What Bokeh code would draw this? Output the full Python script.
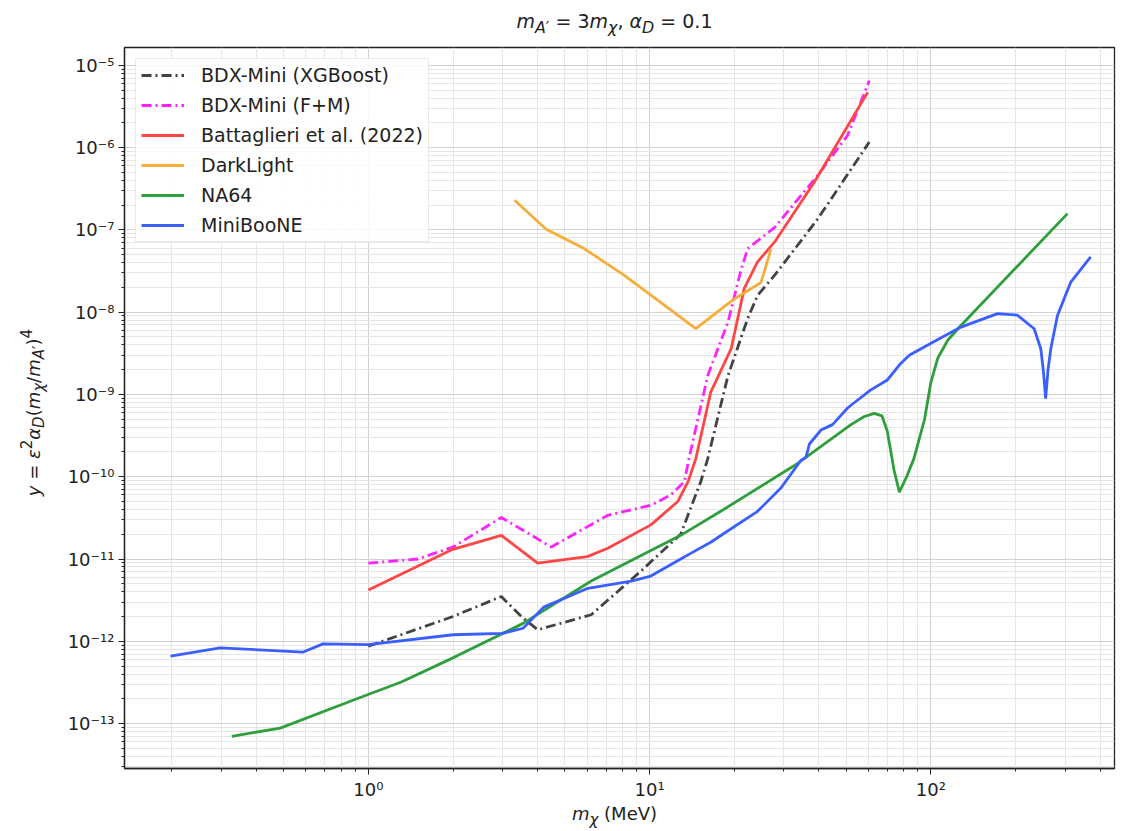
from bokeh.plotting import figure
from bokeh.models import Range1d, FixedTicker, CustomJSTickFormatter, Legend, LegendItem, Div
from bokeh.layouts import column, row
from bokeh.embed import file_html
from bokeh.resources import INLINE

# ---------------- data ----------------
xgb_x = [1.0, 2.0, 2.97, 3.5, 4.0, 6.2, 9.3, 12.9, 15.2, 16.1, 19.0, 22.3, 24.2, 27.8, 39.6, 60.4]
xgb_y = [8.7e-13, 2.0e-12, 3.5e-12, 2.0e-12, 1.38e-12, 2.1e-12, 7.1e-12, 2.0e-11, 8.7e-11,
         1.66e-10, 1.7e-9, 8.3e-9, 1.6e-8, 2.8e-8, 1.36e-7, 1.17e-6]

fm_x = [1.0, 1.5, 2.0, 2.97, 4.47, 7.1, 10.1, 11.9, 13.3, 13.8, 16.1, 19.0, 21.0, 22.3, 27.8,
        39.6, 50.5, 60.4]
fm_y = [8.9e-12, 1.0e-11, 1.4e-11, 3.2e-11, 1.4e-11, 3.4e-11, 4.5e-11, 6.0e-11, 8.7e-11, 1.66e-10,
        1.7e-9, 7.6e-9, 3.0e-8, 5.9e-8, 1.07e-7, 4.6e-7, 1.4e-6, 6.5e-6]

bat_x = [1.0, 1.97, 2.97, 4.0, 6.0, 7.1, 10.1, 12.6, 13.7, 14.6, 16.5, 19.5, 21.7, 24.2, 27.8, 38.5, 59.6]
bat_y = [4.2e-12, 1.29e-11, 1.94e-11, 8.9e-12, 1.07e-11, 1.35e-11, 2.6e-11, 5.0e-11, 8.7e-11,
         1.66e-10, 1.07e-9, 3.6e-9, 1.95e-8, 4.1e-8, 7.1e-8, 3.8e-7, 4.7e-6]

dl_x = [3.31, 4.29, 5.87, 8.13, 14.6, 20.0, 24.9, 27.0]
dl_y = [2.3e-7, 1.02e-7, 5.9e-8, 2.8e-8, 6.3e-9, 1.45e-8, 2.3e-8, 5.8e-8]

na_x = [0.327, 0.486, 0.91, 1.31, 2.06, 3.55, 6.2, 12.9, 17.9, 33.6, 52.0, 58.0, 63.0, 67.0, 70.0,
        74.0, 77.3, 82.0, 87.0, 95.0, 100.0, 106.0, 115.0, 128.0, 306.0]
na_y = [7.0e-14, 8.8e-14, 2.0e-13, 3.2e-13, 6.6e-13, 1.65e-12, 5.4e-12, 1.94e-11, 3.8e-11, 1.45e-10,
        4.3e-10, 5.4e-10, 5.9e-10, 5.5e-10, 3.6e-10, 1.2e-10, 6.5e-11, 1.0e-10, 1.65e-10, 5.0e-10,
        1.4e-9, 2.8e-9, 4.6e-9, 6.9e-9, 1.58e-7]

mb_x = [0.198, 0.297, 0.587, 0.69, 1.0, 2.0, 3.0, 3.55, 4.2, 6.03, 8.6, 10.1, 12.9, 14.0, 16.5,
        18.2, 24.2, 29.3, 34.5, 36.0, 37.0, 40.7, 44.7, 50.5, 52.0, 61.0, 70.0, 78.0, 83.8, 102.8,
        128.0, 172.7, 203.0, 233.0, 246.0, 251.0, 256.0, 261.0, 267.0, 282.0, 314.0, 370.0]
mb_y = [6.6e-13, 8.3e-13, 7.4e-13, 9.3e-13, 9.1e-13, 1.2e-12, 1.25e-12, 1.44e-12, 2.6e-12, 4.4e-12,
        5.4e-12, 6.2e-12, 1.0e-11, 1.17e-11, 1.6e-11, 2.0e-11, 3.8e-11, 7.3e-11, 1.58e-10, 1.73e-10,
        2.5e-10, 3.7e-10, 4.3e-10, 6.8e-10, 7.4e-10, 1.13e-9, 1.5e-9, 2.37e-9, 3.0e-9, 4.4e-9,
        6.6e-9, 9.6e-9, 9.2e-9, 6.3e-9, 3.6e-9, 2.0e-9, 8.9e-10, 2.0e-9, 3.6e-9, 9.1e-9, 2.3e-8, 4.7e-8]

labels = ["BDX-Mini (XGBoost)", "BDX-Mini (F+M)", "Battaglieri et al. (2022)",
          "DarkLight", "NA64", "MiniBooNE"]
x_major = [1, 10, 100]
y_major_exp = list(range(-13, -4))

# ---------------- figure ----------------
FONT = "DejaVu Sans"
p = figure(width=1066, height=762, x_axis_type="log", y_axis_type="log",
           x_range=Range1d(0.1358, 449.8), y_range=Range1d(2.84e-14, 1.652e-5),
           output_backend="svg", toolbar_location=None,
           min_border_left=74, min_border_right=2, min_border_top=7, min_border_bottom=33)

p.outline_line_color = "#222222"
p.outline_line_width = 1.3

x_minor = [m * 10.0 ** k for k in range(-1, 3) for m in range(2, 10)]
y_major = [10.0 ** k for k in y_major_exp]
y_minor = [m * 10.0 ** k for k in range(-14, -4) for m in range(2, 10)]
p.xaxis.ticker = FixedTicker(ticks=x_major, minor_ticks=x_minor)
p.yaxis.ticker = FixedTicker(ticks=y_major, minor_ticks=y_minor)

fmt_code = """
const sup = {"-":"\u207b","0":"\u2070","1":"\u00b9","2":"\u00b2","3":"\u00b3","4":"\u2074",
             "5":"\u2075","6":"\u2076","7":"\u2077","8":"\u2078","9":"\u2079"};
const e = Math.round(Math.log10(tick));
return "10" + String(e).split("").map(c => sup[c]).join("");
"""
for ax in (p.xaxis, p.yaxis):
    ax.formatter = CustomJSTickFormatter(code=fmt_code)
    ax.major_label_text_font = FONT
    ax.major_label_text_font_size = "18px"
    ax.major_label_text_color = "#222222"
    ax.axis_line_color = "#222222"
    ax.axis_line_width = 1.3
    ax.major_tick_line_color = "#222222"
    ax.minor_tick_line_color = "#222222"
    ax.major_tick_in = 0
    ax.major_tick_out = 6
    ax.minor_tick_in = 0
    ax.minor_tick_out = 3
    ax.major_label_standoff = 4

for g in (p.xgrid, p.ygrid):
    g.grid_line_color = "#d2d2d2"
    g.grid_line_width = 1
    g.minor_grid_line_color = "#e6e6e6"
    g.minor_grid_line_width = 1

LW = 2.8
r1 = p.line(xgb_x, xgb_y, line_color="#222222", line_alpha=0.85, line_width=LW, line_dash="10 4 2 4")
r2 = p.line(fm_x, fm_y, line_color="#ff22ff", line_width=LW, line_dash="10 4 2 4")
r3 = p.line(bat_x, bat_y, line_color="#ff4646", line_width=LW)
r4 = p.line(dl_x, dl_y, line_color="#f7ad3a", line_width=LW)
r5 = p.line(na_x, na_y, line_color="#2f9e3c", line_width=LW)
r6 = p.line(mb_x, mb_y, line_color="#3b5fff", line_width=LW)

legend = Legend(items=[LegendItem(label=l, renderers=[r]) for l, r in zip(labels, [r1, r2, r3, r4, r5, r6])],
                location="top_left", label_text_font=FONT, label_text_font_size="19px",
                label_text_color="#222222", glyph_width=43, glyph_height=20, label_height=20,
                label_standoff=17, spacing=8, padding=5, margin=11,
                border_line_color="#d6d6d6", border_line_width=1,
                background_fill_color="white", background_fill_alpha=0.85)
p.add_layout(legend)

# ---------------- text with sub/superscripts ----------------
title_div = Div(width=1106, height=30, text=(
    '<div style="width:991px;margin-left:114px;text-align:center;font-family:\'DejaVu Sans\';'
    'font-size:19px;color:#222;position:relative;top:3px;white-space:nowrap;">'
    '<i>m</i><sub><i>A\u2032</i></sub> = 3<i>m</i><sub><i>\u03c7</i></sub>, '
    '<i>\u03b1</i><sub><i>D</i></sub> = 0.1</div>'))

ylabel_div = Div(width=40, height=762, text=(
    '<div style="width:40px;height:736px;display:flex;align-items:center;justify-content:flex-end;">'
    '<span style="writing-mode:vertical-rl;transform:rotate(180deg);font-family:\'DejaVu Sans\';'
    'font-size:18px;color:#222;white-space:nowrap;position:relative;left:5px;">'
    '<i>y</i> = <i>\u03b5</i><sup>2</sup><i>\u03b1</i><sub><i>D</i></sub>'
    '(<i>m</i><sub><i>\u03c7</i></sub>/<i>m</i><sub><i>A\u2032</i></sub>)<sup>4</sup>'
    '</span></div>'))

xlabel_div = Div(width=1106, height=22, text=(
    '<div style="width:991px;margin-left:114px;text-align:center;font-family:\'DejaVu Sans\';'
    'font-size:18px;color:#222;position:relative;top:-16px;white-space:nowrap;">'
    '<i>m</i><sub><i>\u03c7</i></sub> (MeV)</div>'))

layout = column(title_div, row(ylabel_div, p), xlabel_div)

open("out.html", "w").write(file_html(layout, INLINE))
